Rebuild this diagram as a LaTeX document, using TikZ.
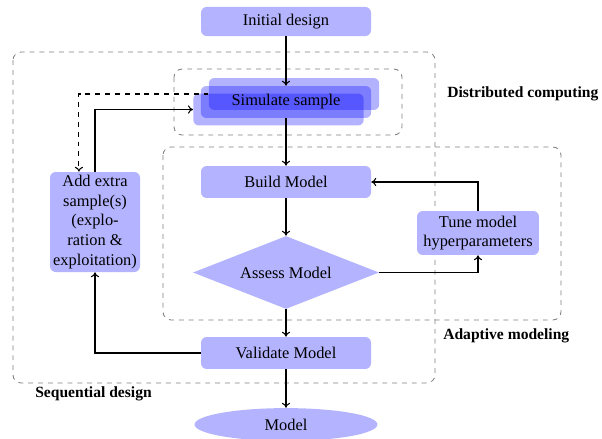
\documentclass[tikz,border=0pt]{standalone}
\usepackage{fontspec}
\setmainfont{Liberation Serif}
\usetikzlibrary{shapes.geometric,arrows.meta}
\definecolor{bfill}{RGB}{179,179,255}
\tikzset{
  box/.style={rectangle, rounded corners=3.5pt, fill=bfill, minimum width=103.7pt, minimum height=19.5pt, inner sep=1pt, align=center, font=\fontsize{10}{12}\selectfont},
  simbox/.style={rectangle, rounded corners=3.5pt, fill=blue, fill opacity=0.3, text opacity=1, minimum width=104pt, minimum height=19.5pt, inner sep=1pt},
  region/.style={draw=gray, dashed, rounded corners=5pt, line width=0.5pt},
  conn/.style={-{To[length=3pt,width=5pt]}, line width=0.65pt},
  lab/.style={anchor=west, font=\fontsize{9.5}{11}\selectfont\bfseries, inner sep=0pt}
}
\begin{document}
\begin{tikzpicture}[x=0.61pt,y=-0.61pt]
\useasboundingbox (0,0) rectangle (602,439);
% regions
\draw[region] (13,52) rectangle (435,383);
\draw[region] (174,69) rectangle (402,135);
\draw[region] (163,147) rectangle (561,320);
\node[lab] (ldist) at (447,94) {Distributed computing};
\node[lab] (ladapt) at (443,336) {Adaptive modeling};
\node[lab] (lseq) at (35,394) {Sequential design};
% nodes
\node[box, minimum height=17.7pt] (init) at (286,21.5) {Initial design};
\node[simbox] (sim1) at (294,94) {};
\node[simbox] (sim2) at (286,102) {};
\node[simbox] (sim3) at (278.5,109.5) {};
\node[inner sep=0pt, font=\fontsize{10}{12}\selectfont] (simtext) at (286,102) {Simulate sample};
\node[box] (build) at (286,182) {Build Model};
\node[diamond, fill=bfill, minimum width=113.5pt, minimum height=44.5pt, inner sep=0pt, aspect=2.5, font=\fontsize{10}{12}\selectfont] (assess) at (286,272.5) {Assess Model};
\node[box, minimum width=74.4pt, minimum height=26.8pt] (tune) at (478,233) {Tune model\\hyperparameters};
\node[box, minimum width=54.9pt, minimum height=61pt, inner sep=0pt] (add) at (95,222) {Add extra\\sample(s)\\(explo-\\ration \&\\exploitation)};
\node[box] (valid) at (286,353) {Validate Model};
\node[ellipse, fill=bfill, minimum width=111.6pt, minimum height=20pt, inner sep=0pt, font=\fontsize{10}{12}\selectfont] (model) at (286,424.5) {Model};
\coordinate (addtop) at ([xshift=-9.8pt]add.north);
% connectors
\draw[conn] (init.south) -- (sim2.north);
\draw[conn] (sim2.south) -- (build.north);
\draw[conn] (build.south) -- (assess.north);
\draw[conn] (assess.south) -- (valid.north);
\draw[conn] (valid.south) -- (model.north);
\draw[conn] (assess.east) -| (tune.south);
\draw[conn] (tune.north) |- (build.east);
\draw[conn] (valid.west) -| (add.south);
\draw[conn] (add.north) |- (sim3.west);
\draw[conn, dashed] (sim1.west) -| (addtop);
\end{tikzpicture}
\end{document}
